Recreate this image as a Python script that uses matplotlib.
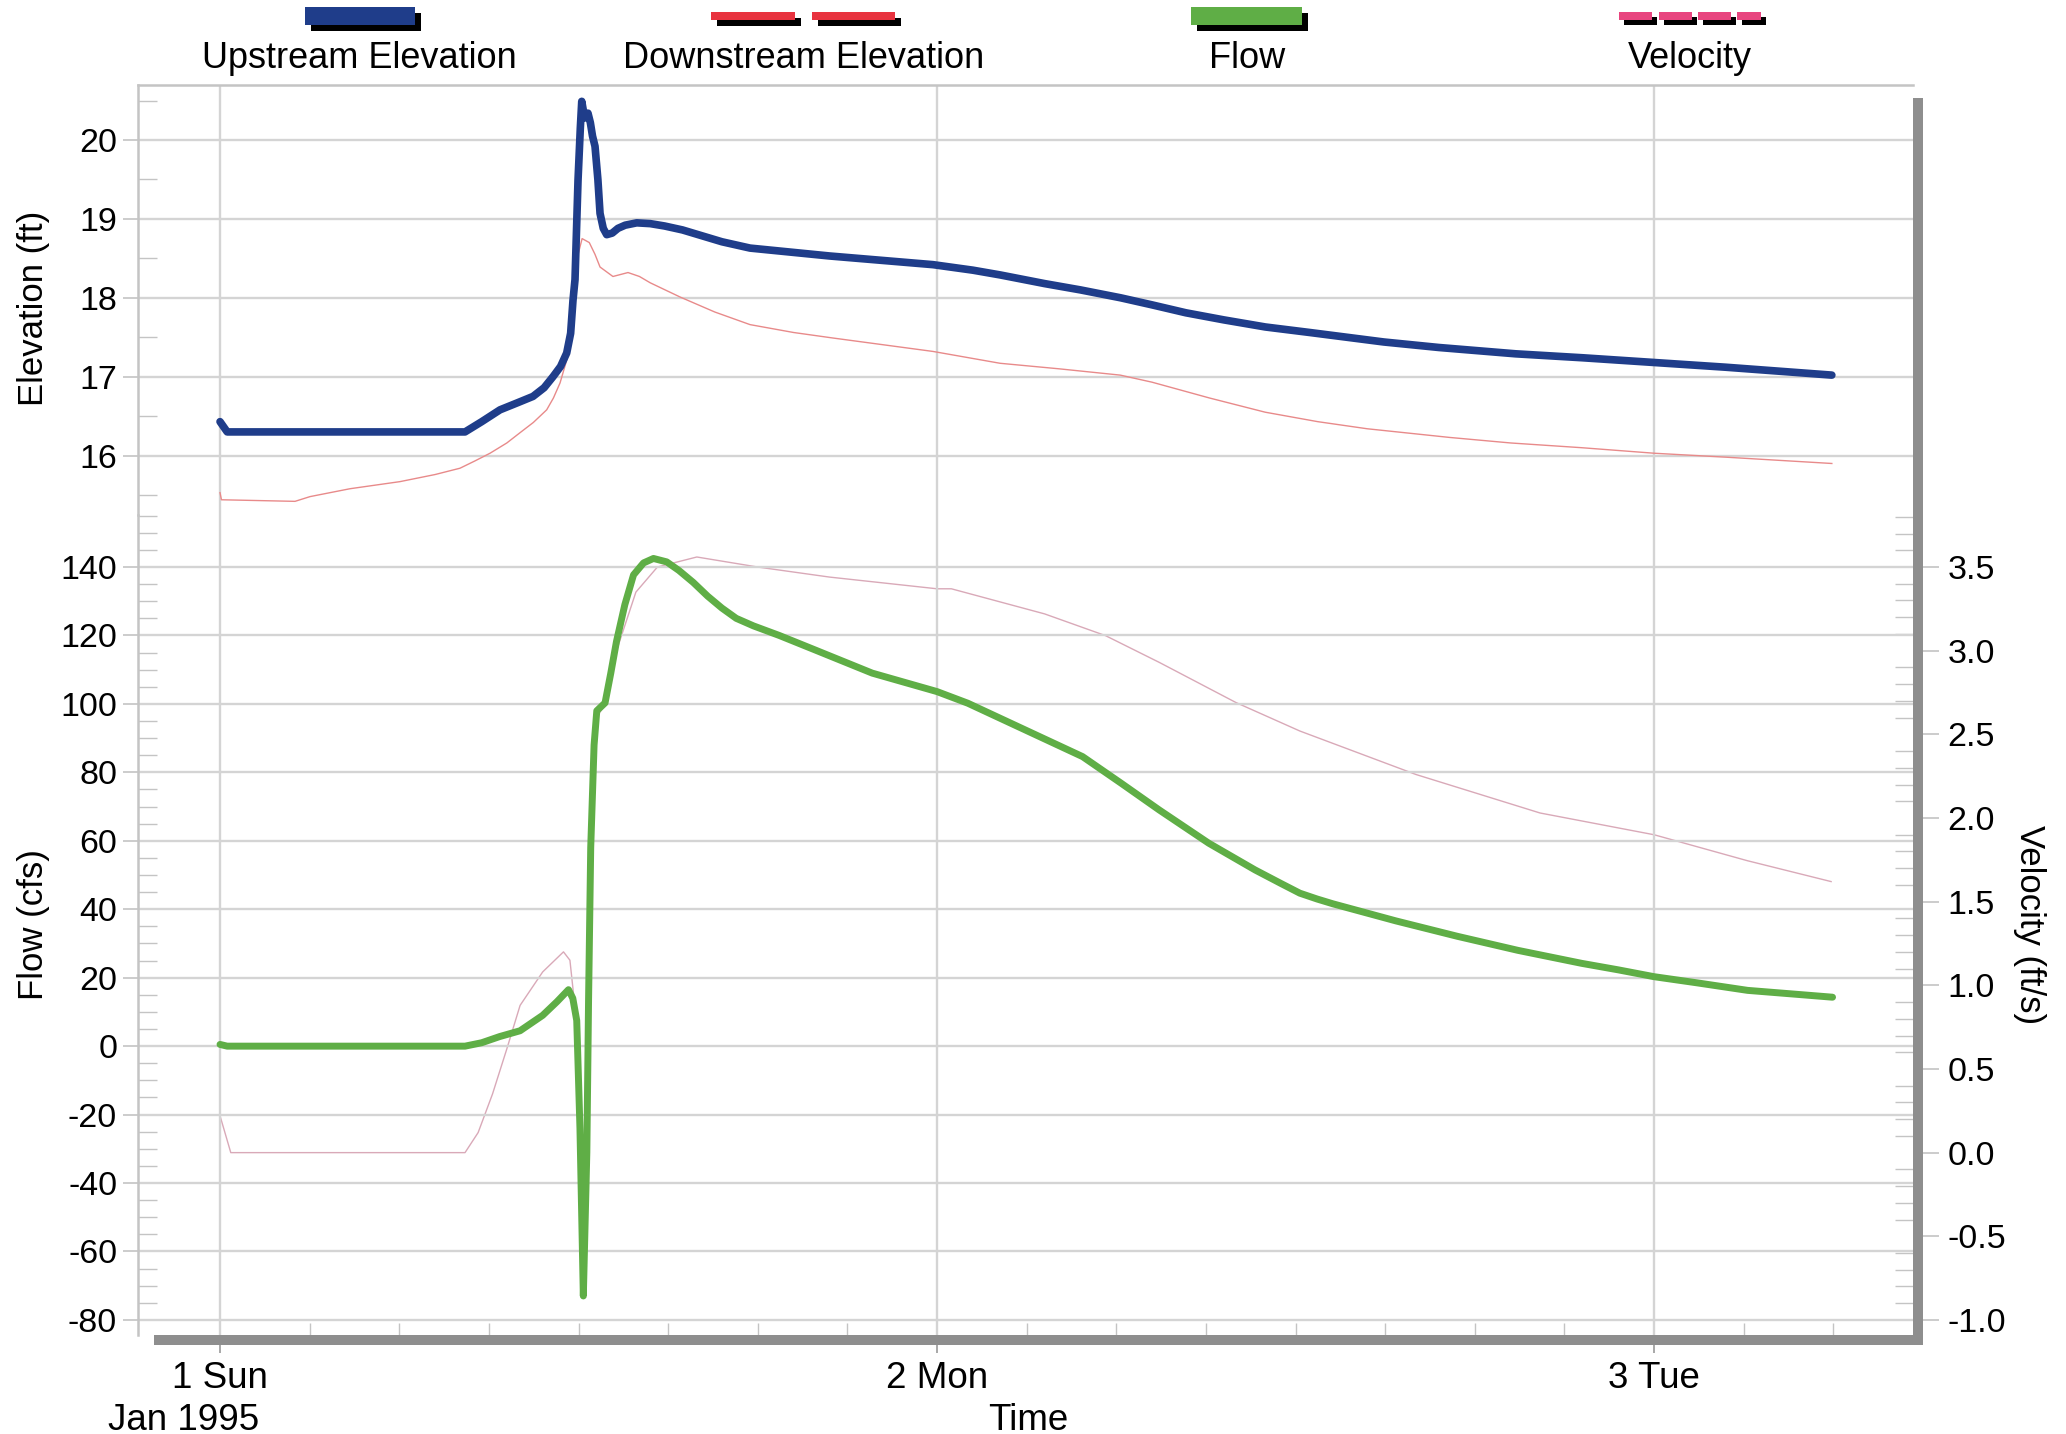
"""
Upstream / downstream elevation, flow and velocity for a link, Jan 1-3 1995.
Recreation of a scanned hydraulic time-series chart.
"""

import numpy as np
import matplotlib.pyplot as plt
from matplotlib.patches import Rectangle
from matplotlib.ticker import MultipleLocator

plt.rcParams['font.family'] = ['Liberation Sans', 'DejaVu Sans']
plt.rcParams['axes.unicode_minus'] = False

W, H = 2066, 1434          # output size in px (dpi 100)

BLUE = '#1f3d8a'
RED = '#e8333f'
RED_LINE = '#e88a8a'
GREEN = '#5fae46'
PINK = '#e8457f'
PINK_LINE = '#d9a9b8'
GRID = '#d4d4d4'
FRAME = '#c4c4c4'
SHADOW = '#8e8e8e'

# ── Data (time in days after 1 Jan 1995 00:00) ──
up_t = [0.000, 0.010, 0.3417, 0.365, 0.3905, 0.415, 0.4365, 0.452, 0.4644,
        0.475, 0.4835, 0.489, 0.4923, 0.4951, 0.4993, 0.5025, 0.5045, 0.5070,
        0.5095, 0.5132, 0.5165, 0.5195, 0.523, 0.527, 0.530, 0.5345, 0.5393,
        0.547, 0.555, 0.565, 0.5812, 0.60, 0.62, 0.645, 0.667, 0.70, 0.7392,
        0.85, 0.9944, 1.05, 1.0879, 1.15, 1.20, 1.256, 1.30, 1.347, 1.40,
        1.458, 1.52, 1.623, 1.70, 1.807, 1.90, 2.000, 2.10, 2.248]
up_elev = [16.43, 16.30, 16.30, 16.43, 16.58, 16.67, 16.75, 16.86, 17.00,
           17.13, 17.30, 17.55, 17.97, 18.23, 19.49, 20.15, 20.49, 20.36,
           20.28, 20.34, 20.22, 20.05, 19.92, 19.50, 19.07, 18.88, 18.80,
           18.82, 18.88, 18.92, 18.95, 18.94, 18.91, 18.86, 18.80, 18.71, 18.63,
           18.53, 18.42, 18.35, 18.29, 18.18, 18.10, 18.00, 17.91, 17.81, 17.72,
           17.63, 17.56, 17.44, 17.37, 17.29, 17.24, 17.18, 17.12, 17.02]

dn_t = [0.000, 0.002, 0.1046, 0.1255, 0.1813, 0.251, 0.30, 0.3347, 0.355,
        0.3766, 0.40, 0.4184, 0.437, 0.4556, 0.465, 0.4742, 0.4835, 0.492,
        0.498, 0.505, 0.515, 0.523, 0.530, 0.548, 0.569, 0.585, 0.60, 0.6416,
        0.69, 0.7392, 0.80, 0.855, 0.9944, 1.0879, 1.17, 1.2555, 1.30, 1.38,
        1.4577, 1.531, 1.60, 1.715, 1.80, 1.899, 2.000, 2.10, 2.248]
dn_elev = [15.53, 15.44, 15.42, 15.48, 15.58, 15.67, 15.76, 15.84, 15.93,
           16.03, 16.16, 16.29, 16.42, 16.58, 16.73, 16.92, 17.21, 17.90,
           18.50, 18.75, 18.70, 18.55, 18.39, 18.27, 18.32, 18.27, 18.19, 18.01,
           17.82, 17.66, 17.56, 17.49, 17.32, 17.17, 17.10, 17.02, 16.93, 16.73,
           16.55, 16.43, 16.34, 16.23, 16.16, 16.10, 16.03, 15.98, 15.90]

flow_t = [0.000, 0.010, 0.3417, 0.365, 0.39, 0.4185, 0.45, 0.47, 0.486, 0.492,
          0.4975, 0.502, 0.5067, 0.5116, 0.514, 0.517, 0.5217, 0.5255, 0.537,
          0.545, 0.553, 0.5646, 0.5767, 0.5907, 0.6045, 0.623, 0.64, 0.66,
          0.68, 0.70, 0.72, 0.744, 0.78, 0.8296, 0.9096, 1.0, 1.043, 1.123,
          1.203, 1.257, 1.31, 1.379, 1.4435, 1.48, 1.506, 1.53, 1.552, 1.64,
          1.7257, 1.81, 1.899, 1.95, 2.0, 2.06, 2.1305, 2.19, 2.249]
flow = [0.5, 0.0, 0.0, 1.0, 2.8, 4.5, 9.0, 13.0, 16.5, 14.0,
        7.5, -24.0, -73.0, -31.0, 13.5, 58.0, 88.0, 98.0, 100.3,
        109.0, 118.3, 129.0, 137.7, 141.2, 142.5, 141.5, 139.0, 135.5,
        131.5, 128.0, 125.0, 122.8, 120.0, 115.8, 109.0, 103.6, 100.2, 92.4,
        84.6, 76.8, 69.0, 59.3, 51.5, 47.5, 44.7, 43.0, 41.6, 36.6,
        32.1, 28.0, 24.2, 22.3, 20.3, 18.5, 16.3, 15.3, 14.3]

vel_t = [0.000, 0.015, 0.3417, 0.36, 0.38, 0.40, 0.4185, 0.45, 0.479, 0.488,
         0.493, 0.500, 0.507, 0.513, 0.518, 0.525, 0.537, 0.553, 0.580, 0.610,
         0.665, 0.750, 0.850, 1.000, 1.020, 1.150, 1.235, 1.310, 1.417, 1.506,
         1.668, 1.841, 2.000, 2.130, 2.247]
vel = [0.22, 0.0, 0.0, 0.12, 0.35, 0.62, 0.88, 1.08, 1.20, 1.15,
       0.95, 0.30, -0.50, 0.80, 2.00, 2.60, 2.68, 3.00, 3.35, 3.50,
       3.56, 3.50, 3.44, 3.37, 3.37, 3.22, 3.09, 2.93, 2.69, 2.52,
       2.26, 2.03, 1.90, 1.745, 1.62]

day_ticks = [0, 1, 2]
day_labels = ['1 Sun', '2 Mon', '3 Tue']
elev_ticks = [16, 17, 18, 19, 20]
flow_ticks = list(range(-80, 141, 20))
vel_ticks = [-1.0, -0.5, 0.0, 0.5, 1.0, 1.5, 2.0, 2.5, 3.0, 3.5]


def fx(x):
    return x / W


def fy(y):
    return 1 - y / H


# ── Layout in pixels ──
L, R = 138, 1913
TOP, SPLIT, BOT = 85, 515, 1335

fig = plt.figure(figsize=(W / 100, H / 100), dpi=100)
fig.patch.set_facecolor('white')

ax_e = fig.add_axes([fx(L), fy(SPLIT), fx(R) - fx(L), fy(TOP) - fy(SPLIT)])
ax_f = fig.add_axes([fx(L), fy(BOT), fx(R) - fx(L), fy(SPLIT) - fy(BOT)])
ax_v = ax_f.twinx()
ax_f.set_zorder(ax_v.get_zorder() + 1)
ax_f.patch.set_visible(False)

XLIM = (-0.1144, 2.3612)
for ax in (ax_e, ax_f):
    ax.set_xlim(*XLIM)
    ax.set_xticks(day_ticks)
    ax.grid(axis='both', which='major', color=GRID, linewidth=1.7, zorder=0)
    ax.set_axisbelow(True)
    for side in ('right', 'bottom', 'top'):
        ax.spines[side].set_visible(False)
    ax.spines['left'].set_color(FRAME)
    ax.spines['left'].set_linewidth(1.8)
ax_e.spines['top'].set_visible(True)
ax_e.spines['top'].set_color(FRAME)
ax_e.spines['top'].set_linewidth(1.8)
for s in ax_v.spines.values():
    s.set_visible(False)

# ── Elevation panel ──
ax_e.plot(dn_t, dn_elev, color=RED_LINE, linewidth=1.0, zorder=3)
ax_e.plot(up_t, up_elev, color=BLUE, linewidth=5.5, zorder=4,
          solid_capstyle='round', solid_joinstyle='round')
ax_e.set_ylim(15.247, 20.697)
ax_e.set_yticks(elev_ticks)
ax_e.yaxis.set_minor_locator(MultipleLocator(0.5))
ax_e.tick_params(axis='x', bottom=False, labelbottom=False)
ax_e.tick_params(axis='y', which='major', direction='out', length=11,
                 width=1.2, color=FRAME, labelsize=24.5, pad=4)
ax_e.tick_params(axis='y', which='minor', direction='in', length=14,
                 width=1.0, color=FRAME)
ax_e.set_ylabel('Elevation (ft)', fontsize=25)
ax_e.yaxis.set_label_coords(fx(50), fy(308), transform=fig.transFigure)

# ── Flow / velocity panel ──
ax_v.plot(vel_t, vel, color=PINK_LINE, linewidth=1.0)
ax_f.plot(flow_t, flow, color=GREEN, linewidth=5.0, zorder=4,
          solid_capstyle='round', solid_joinstyle='round')
ax_f.set_ylim(-84.4, 155.2)
ax_v.set_ylim(-1.09, 3.811)
ax_f.set_yticks(flow_ticks)
ax_f.yaxis.set_minor_locator(MultipleLocator(5))
ax_f.tick_params(axis='y', which='major', direction='out', length=11,
                 width=1.2, color=FRAME, labelsize=24.5, pad=4)
ax_f.tick_params(axis='y', which='minor', direction='in', length=14,
                 width=1.0, color=FRAME)
ax_f.set_xticklabels(day_labels)
ax_f.xaxis.set_minor_locator(MultipleLocator(0.125))
ax_f.tick_params(axis='x', which='major', direction='out', length=13,
                 width=1.4, color='#a8a8a8', labelsize=26.5, pad=6)
ax_f.tick_params(axis='x', which='minor', direction='in', length=9,
                 width=1.0, color=FRAME)
ax_f.set_ylabel('Flow (cfs)', fontsize=25)
ax_f.yaxis.set_label_coords(fx(50), fy(925), transform=fig.transFigure)

ax_v.set_yticks(vel_ticks)
ax_v.set_yticklabels([f'{v:.1f}' for v in vel_ticks])
ax_v.yaxis.set_minor_locator(MultipleLocator(0.1))
ax_v.tick_params(axis='y', which='major', direction='out', length=19,
                 width=1.2, color=FRAME, labelsize=24.5, pad=6)
ax_v.tick_params(axis='y', which='minor', direction='in', length=13,
                 width=1.0, color=FRAME)
ax_v.set_ylabel('Velocity (ft/s)', fontsize=25, rotation=270)
ax_v.yaxis.set_label_coords(fx(2046), fy(925), transform=fig.transFigure)

# ── Shadow bars on right and bottom of the frame ──
fig.patches.append(Rectangle((fx(R), fy(1345)), fx(10), (1345 - 98) / H,
                             transform=fig.transFigure, facecolor=SHADOW,
                             edgecolor='none', zorder=5))
fig.patches.append(Rectangle((fx(154), fy(1345)), fx(1923 - 154), 10 / H,
                             transform=fig.transFigure, facecolor=SHADOW,
                             edgecolor='none', zorder=5))

fig.text(fx(184), fy(1430), 'Jan 1995', fontsize=26.5, ha='center', va='baseline')
fig.text(fx(1028), fy(1430), 'Time', fontsize=26.5, ha='center', va='baseline')


# ── Legend across the top ──
def swatch(x0, x1, y0, y1, color, shadow=6):
    fig.patches.append(Rectangle((fx(x0 + shadow), fy(y1 + shadow)),
                                 fx(x1 - x0), (y1 - y0) / H,
                                 transform=fig.transFigure, facecolor='black',
                                 edgecolor='none', zorder=5))
    fig.patches.append(Rectangle((fx(x0), fy(y1)), fx(x1 - x0), (y1 - y0) / H,
                                 transform=fig.transFigure, facecolor=color,
                                 edgecolor='none', zorder=6))


swatch(305, 415, 7, 25, BLUE)
swatch(711, 795, 12, 20, RED, shadow=6)
swatch(812, 895, 12, 20, RED, shadow=6)
swatch(1191, 1302, 7, 25, GREEN)
for a, b in [(1619, 1652), (1659, 1692), (1698, 1731), (1737, 1761)]:
    swatch(a, b, 12, 20, PINK, shadow=5)

for label, xc in [('Upstream Elevation', 359), ('Downstream Elevation', 804),
                  ('Flow', 1247), ('Velocity', 1690)]:
    fig.text(fx(xc), fy(68), label, fontsize=26, ha='center', va='baseline')

fig.savefig('out.png', dpi=100)
plt.close(fig)
